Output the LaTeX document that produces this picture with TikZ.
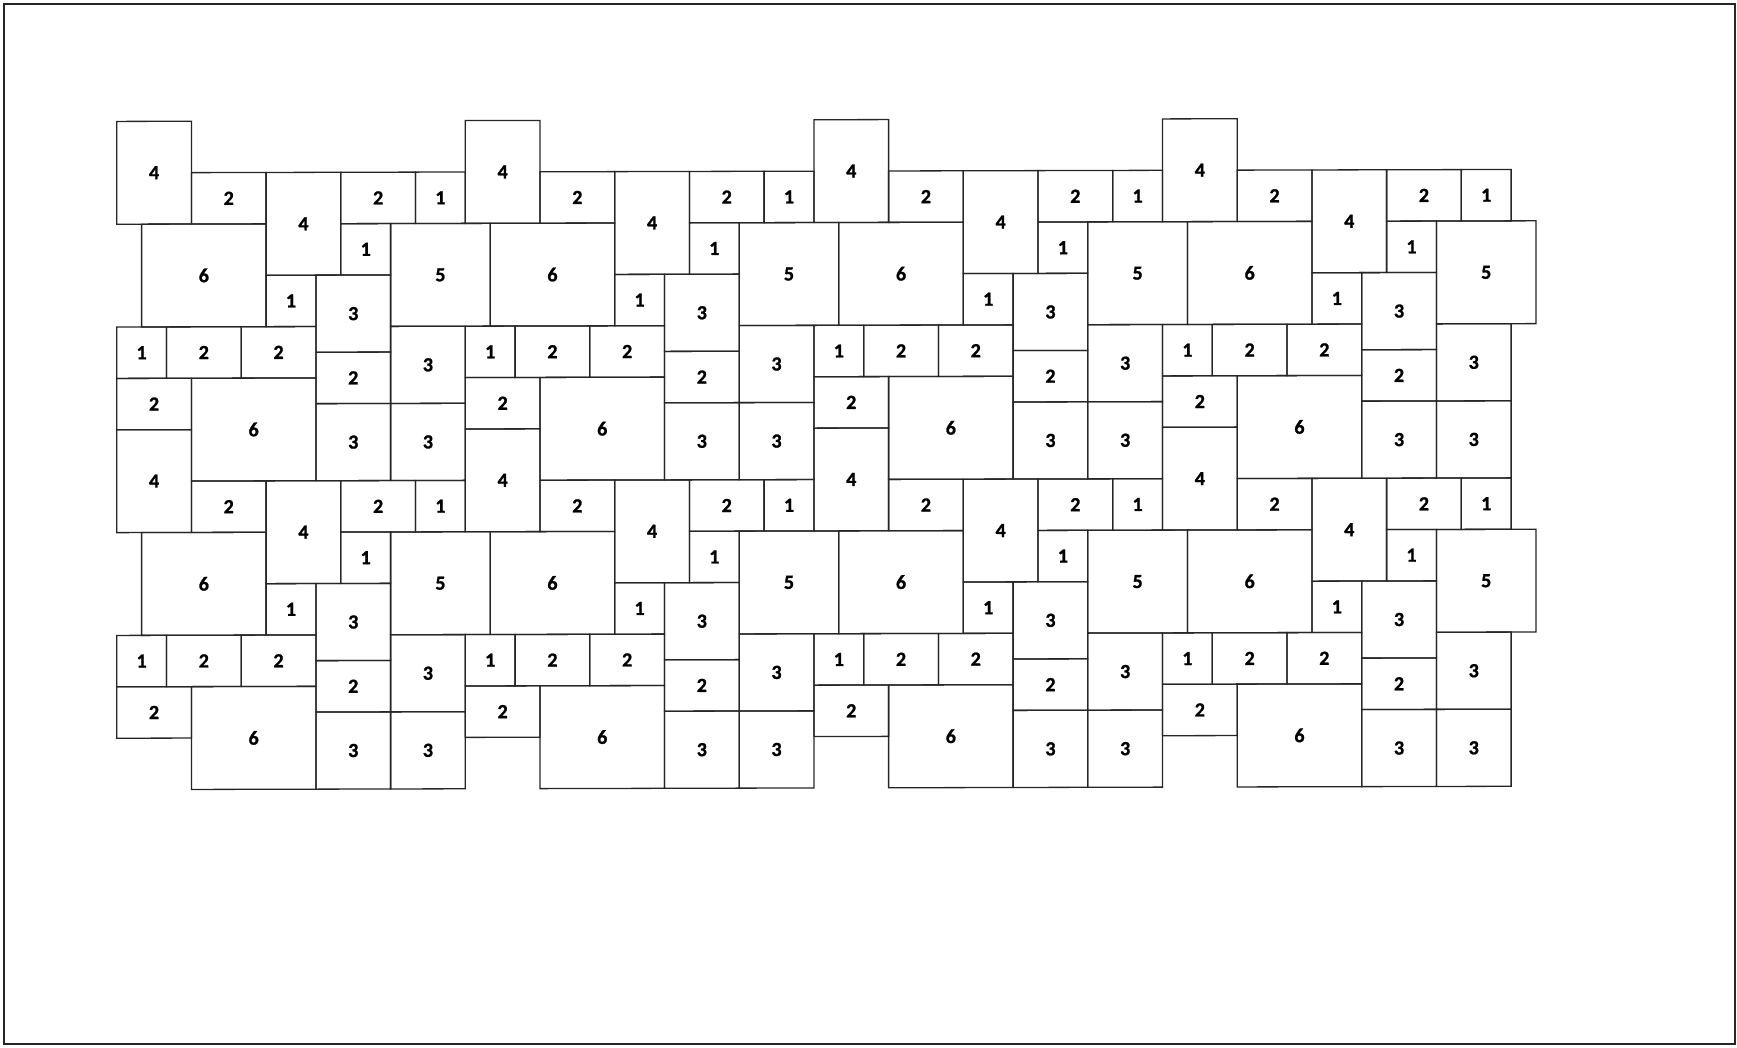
\documentclass[tikz,border=0pt]{standalone}
\usepackage{fontspec}
\setmainfont{Carlito}
\newfontfamily\tilefont{Carlito}[BoldFeatures={FakeBold=1.2}]
\begin{document}
\begin{tikzpicture}[x=1pt,y=-1pt,
  tile/.style={draw=black!85,line width=1.3pt},
  lbl/.style={font=\tilefont\bfseries\fontsize{20}{20}\selectfont,text=black,inner sep=0pt},
  frame/.style={draw=black!85,line width=1.6pt}]
\useasboundingbox (0,0) rectangle (1737,1047);
\draw[frame] (4,4) rectangle (1735,1044);
\def\hu{24.9}\def\vu{25.7}\def\ox{116.7}\def\oy{121.7}
\begin{scope}[yslant=0.0024]
\foreach \pa in {0,...,3}{
 \foreach \pb in {0,1}{
  \foreach \tx/\ty/\tw/\th/\tl [count=\k] in {
    0/0/3/4/4, 3/2/3/2/2, 6/2/3/4/4, 9/2/3/2/2, 12/2/2/2/1,
    1/4/5/4/6, 9/4/2/2/1, 11/4/4/4/5, 6/6/2/2/1, 8/6/3/3/3,
    0/8/2/2/1, 2/8/3/2/2, 5/8/3/2/2, 8/9/3/2/2, 11/8/3/3/3,
    0/10/3/2/2, 3/10/5/4/6, 8/11/3/3/3, 11/11/3/3/3}{
    \pgfmathsetmacro\xa{\ox+\hu*(\tx+14*\pa)}
    \pgfmathsetmacro\ya{\oy+\vu*(\ty+12*\pb)}
    \pgfmathsetmacro\xb{\xa+\hu*\tw}
    \pgfmathsetmacro\yb{\ya+\vu*\th}
    \draw[tile] (\xa,\ya) rectangle (\xb,\yb);
    \node[lbl] (t-\pa-\pb-\k) at ({(\xa+\xb)/2},{(\ya+\yb)/2}) {\tl};
  }
 }
}
\end{scope}
\end{tikzpicture}
\end{document}
